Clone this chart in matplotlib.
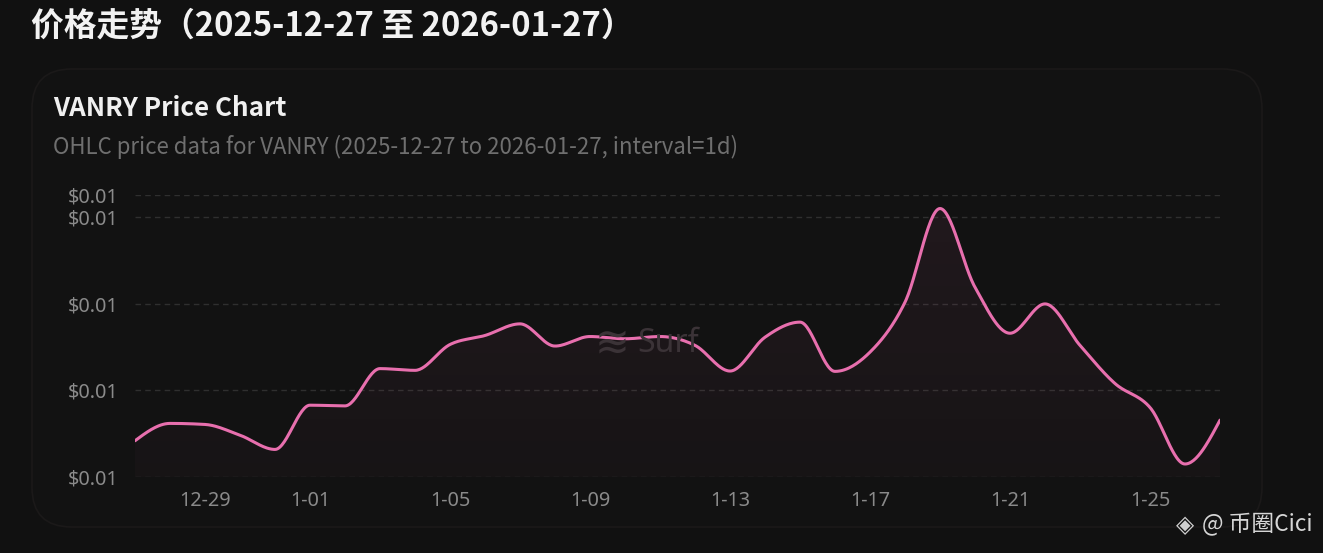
import numpy as np
import matplotlib
matplotlib.use("Agg")
import matplotlib.pyplot as plt
from matplotlib.patches import FancyBboxPatch, Polygon

# ---- data ----
dates = ["12-27", "12-28", "12-29", "12-30", "12-31", "1-01", "1-02", "1-03", "1-04",
         "1-05", "1-06", "1-07", "1-08", "1-09", "1-10", "1-11", "1-12", "1-13", "1-14",
         "1-15", "1-16", "1-17", "1-18", "1-19", "1-20", "1-21", "1-22", "1-23", "1-24",
         "1-25", "1-26", "1-27"]
prices = [0.006209, 0.006309, 0.006303, 0.006241, 0.006159, 0.006414, 0.006410, 0.006625,
          0.006615, 0.006764, 0.006816, 0.006883, 0.006755, 0.006810, 0.006797, 0.006810,
          0.006759, 0.006611, 0.006806, 0.006893, 0.006609, 0.006720, 0.007008, 0.007548,
          0.007094, 0.006829, 0.006998, 0.006759, 0.006539, 0.006401, 0.006075, 0.006328]
xtick_labels = ["12-29", "1-01", "1-05", "1-09", "1-13", "1-17", "1-21", "1-25"]
ytick_values = [0.006, 0.0065, 0.007, 0.0075, 0.007626]
y_min, y_max = 0.006, 0.007626

title = "价格走势（2025-12-27 至 2026-01-27）"
chart_title = "VANRY Price Chart"
subtitle = "OHLC price data for VANRY (2025-12-27 to 2026-01-27, interval=1d)"

FONT = ["Noto Sans CJK SC", "DejaVu Sans"]
plt.rcParams["font.family"] = FONT

W, H = 1323, 553
BG = "#111111"
LINE = "#e86fae"

fig = plt.figure(figsize=(W / 100, H / 100), dpi=100, facecolor=BG)

def fx(px):
    return px / W

def fy(py):
    return 1 - py / H

# card
card = FancyBboxPatch((fx(32), fy(527)), fx(1262) - fx(32), fy(69) - fy(527),
                      boxstyle="round,pad=0,rounding_size=0.03",
                      transform=fig.transFigure, facecolor="#121212",
                      edgecolor="#1b1919", linewidth=1.2, mutation_aspect=W / H,
                      zorder=-5)
fig.patches.append(card)

fig.text(fx(31), fy(26), title, color="#f2f2f2", fontsize=23.6, fontweight="bold",
         va="center", ha="left")
fig.text(fx(53), fy(108), chart_title, color="#f0f0f0", fontsize=18.7, fontweight="bold",
         va="center", ha="left")
fig.text(fx(53), fy(147), subtitle, color="#6f6f6f", fontsize=16,
         va="center", ha="left")

ax = fig.add_axes([fx(135), fy(477), fx(1220) - fx(135), fy(195) - fy(477)], zorder=2)
ax.set_facecolor("none")

x = np.arange(len(prices), dtype=float)
y = np.array(prices)

# monotone cubic (d3 curveMonotoneX) rendering of the line
def monotone_curve(xs, ys, n=30):
    m = len(xs)
    h = np.diff(xs)
    s = np.diff(ys) / h
    t = np.zeros(m)
    for i in range(1, m - 1):
        s0, s1 = s[i - 1], s[i]
        p = (s0 * h[i] + s1 * h[i - 1]) / (h[i - 1] + h[i])
        t[i] = (np.sign(s0) + np.sign(s1)) * min(abs(s0), abs(s1), 0.5 * abs(p))
    t[0] = (3 * s[0] - t[1]) / 2
    t[-1] = (3 * s[-1] - t[-2]) / 2
    X, Y = [], []
    for i in range(m - 1):
        u = np.linspace(0, 1, n, endpoint=(i == m - 2))
        dx = h[i]
        p0 = np.array([xs[i], ys[i]])
        p1 = np.array([xs[i] + dx / 3, ys[i] + dx * t[i] / 3])
        p2 = np.array([xs[i + 1] - dx / 3, ys[i + 1] - dx * t[i + 1] / 3])
        p3 = np.array([xs[i + 1], ys[i + 1]])
        b = ((1 - u) ** 3)[:, None] * p0 + (3 * (1 - u) ** 2 * u)[:, None] * p1 \
            + (3 * (1 - u) * u ** 2)[:, None] * p2 + (u ** 3)[:, None] * p3
        X.extend(b[:, 0]); Y.extend(b[:, 1])
    return np.array(X), np.array(Y)

cx, cy = monotone_curve(x, y)

# gradient fill under the curve
poly = Polygon(np.column_stack([np.r_[cx, cx[-1], cx[0]], np.r_[cy, y_min, y_min]]),
               closed=True, facecolor="none", edgecolor="none")
ax.add_patch(poly)
grad = np.linspace(0.075, 0.025, 256)[:, None]
rgba = np.zeros((256, 1, 4))
rgba[..., 0] = 0.91; rgba[..., 1] = 0.44; rgba[..., 2] = 0.68
rgba[..., 3] = grad
im = ax.imshow(rgba, extent=[0, len(prices) - 1, y_min, y_max], origin="upper",
               aspect="auto", zorder=1, interpolation="bilinear")
im.set_clip_path(poly)

ax.plot(cx, cy, color=LINE, linewidth=2.2, zorder=3, solid_capstyle="round")

ax.set_xlim(0, len(prices) - 1)
ax.set_ylim(y_min, y_max)

ax.set_yticks(ytick_values)
ax.set_yticklabels(["$" + f"{v:.2f}" for v in ytick_values])
ax.set_xticks([dates.index(d) for d in xtick_labels])
ax.set_xticklabels(xtick_labels)

for v in ytick_values:
    ax.axhline(v, color="#2f2f2f", linewidth=1.0, linestyle=(0, (4, 3)), zorder=0)

for sp in ax.spines.values():
    sp.set_visible(False)
ax.tick_params(axis="both", length=0, colors="#8a8a8a", labelsize=14.3)
ax.tick_params(axis="y", pad=12)
ax.tick_params(axis="x", pad=10)
for lab in ax.get_yticklabels() + ax.get_xticklabels():
    lab.set_family(["Noto Sans", "DejaVu Sans"])

# watermark in plot
fig.text(fx(612), fy(343), "≋", color="#3b3337", fontsize=30, ha="center", va="center",
         family=["DejaVu Sans"], zorder=2)
fig.text(fx(637), fy(343), "Surf", color="#3b3337", fontsize=23, ha="left", va="center",
         family=["Noto Sans", "DejaVu Sans"], zorder=2)

# corner watermark
fig.text(fx(1185), fy(525), "◈", color="#cfcfcf", fontsize=17, ha="center", va="center",
         family=["DejaVu Sans"])
fig.text(fx(1202), fy(525), "@ 币圈Cici", color="#d6d6d6", fontsize=16.4, ha="left",
         va="center", family=FONT)

fig.savefig("out.png", dpi=100, facecolor=BG)
